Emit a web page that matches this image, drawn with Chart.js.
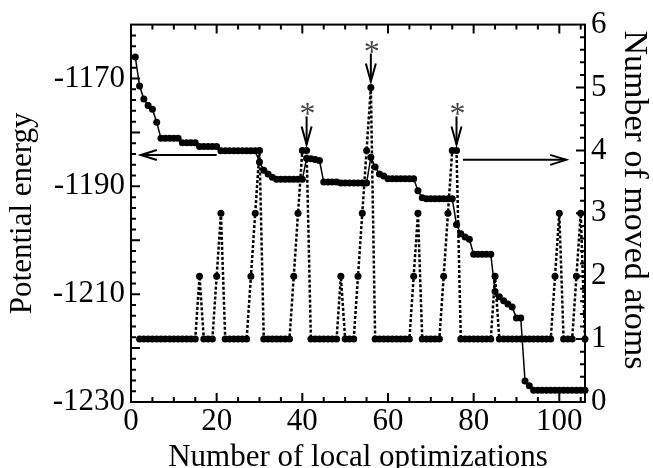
<!DOCTYPE html>
<html>
<head>
<meta charset="utf-8">
<script src="https://cdn.jsdelivr.net/npm/chart.js@4.4.1/dist/chart.umd.min.js"></script>
<style>
  html, body { margin: 0; padding: 0; background: #fff; }
  #wrap { width: 653px; height: 468px; position: relative; }
</style>
</head>
<body>
<div id="wrap"><canvas id="chart"></canvas></div>
<script>
// potential energy after each local optimization, steps 1..106
const energy = [
  -1166, -1171.4, -1173.8, -1175, -1175.7, -1178.1, -1181.1, -1181.1, -1181.1, -1181.1,
  -1181.1, -1181.9, -1181.9, -1181.9, -1181.9, -1182.6, -1182.6, -1182.6, -1182.6, -1182.6,
  -1183.4, -1183.4, -1183.4, -1183.4, -1183.4, -1183.4, -1183.4, -1183.4, -1183.4, -1185.5,
  -1187, -1187.7, -1188.3, -1188.7, -1188.7, -1188.7, -1188.7, -1188.7, -1188.7, -1188.7,
  -1184.8, -1184.9, -1185, -1185.2, -1189.2, -1189.2, -1189.2, -1189.2, -1189.4, -1189.4,
  -1189.4, -1189.4, -1189.4, -1189.4, -1189.4, -1184.6, -1186.4, -1187.7, -1188.1, -1188.6,
  -1188.6, -1188.6, -1188.6, -1188.6, -1188.6, -1188.6, -1190.8, -1192.1, -1192.3, -1192.3,
  -1192.3, -1192.3, -1192.3, -1192.3, -1192.3, -1197.1, -1198.8, -1199.4, -1199.8, -1202.6,
  -1202.6, -1202.6, -1202.6, -1202.6, -1209.5, -1210.5, -1211.2, -1211.8, -1212.4, -1214.4,
  -1214.4, -1226.1, -1227, -1227.8, -1227.8, -1227.8, -1227.8, -1227.8, -1227.8, -1227.8,
  -1227.8, -1227.8, -1227.8, -1227.8, -1227.8, -1227.8
];

// number of moved atoms, same steps (nothing at step 1)
const moved = [
  null, 1, 1, 1, 1, 1, 1, 1, 1, 1,
  1, 1, 1, 1, 1, 2, 1, 1, 1, 2,
  3, 1, 1, 1, 1, 1, 1, 2, 3, 4,
  1, 1, 1, 1, 1, 1, 1, 2, 3, 4,
  4, 1, 1, 1, 1, 1, 1, 1, 2, 1,
  1, 1, 2, 3, 4, 5, 1, 1, 1, 1,
  1, 1, 1, 1, 1, 2, 3, 1, 1, 1,
  1, 1, 2, 3, 4, 4, 1, 1, 1, 1,
  1, 1, 1, 1, 2, 1, 1, 1, 1, 1,
  1, 1, 1, 1, 1, 1, 1, 1, 2, 3,
  1, 1, 1, 2, 3, 1
];

const xTicks = [0, 20, 40, 60, 80, 100];
const energyTicks = [-1230, -1210, -1190, -1170];
const movedTicks = [0, 1, 2, 3, 4, 5, 6];
const markedSteps = [41, 56, 76];

const steps = energy.map((_, i) => i + 1);
const FONT = 'Liberation Serif';

const energyPoints = steps.map((s, i) => ({ x: s, y: energy[i] }));
const movedPoints = steps.map((s, i) => ({ x: s, y: moved[i] })).filter(p => p.y !== null);

function arrow(ctx, x1, y1, x2, y2, len, half) {
  ctx.beginPath();
  ctx.moveTo(x1, y1);
  ctx.lineTo(x2, y2);
  ctx.stroke();
  const a = Math.atan2(y2 - y1, x2 - x1);
  const ux = Math.cos(a), uy = Math.sin(a);
  ctx.beginPath();
  ctx.moveTo(x2 - ux * len - uy * half, y2 - uy * len + ux * half);
  ctx.lineTo(x2, y2);
  ctx.lineTo(x2 - ux * len + uy * half, y2 - uy * len - ux * half);
  ctx.stroke();
}

// inward tick marks, frame, axis titles and the arrows
const decorations = {
  id: 'decorations',
  afterDraw(chart) {
    const ctx = chart.ctx;
    const { left, right, top, bottom } = chart.chartArea;
    const sx = chart.scales.x, sy = chart.scales.y, sy1 = chart.scales.y1;
    ctx.save();
    ctx.strokeStyle = '#000';
    ctx.lineWidth = 2;
    ctx.lineCap = 'butt';

    ctx.beginPath();
    for (let k = 1; k * 5 < 106; k++) {
      const v = k * 5;
      const len = v % 20 === 0 ? 9 : 5;
      const p = sx.getPixelForValue(v);
      ctx.moveTo(p, bottom); ctx.lineTo(p, bottom - len);
      ctx.moveTo(p, top); ctx.lineTo(p, top + len);
    }
    for (let k = 1; k < 35; k++) {
      const v = -1230 + k * 2;
      const len = (k * 2) % 10 === 0 ? 9 : 5;
      const p = sy.getPixelForValue(v);
      ctx.moveTo(left, p); ctx.lineTo(left + len, p);
    }
    for (let k = 1; k < 30; k++) {
      const v = k * 0.2;
      const len = k % 5 === 0 ? 9 : 5;
      const p = sy1.getPixelForValue(v);
      ctx.moveTo(right, p); ctx.lineTo(right - len, p);
    }
    ctx.stroke();
    ctx.strokeRect(left, top, right - left, bottom - top);

    // titles
    ctx.fillStyle = '#000';
    ctx.textAlign = 'center';
    ctx.textBaseline = 'alphabetic';
    ctx.font = '31px "' + FONT + '"';
    ctx.fillText('Number of local optimizations', (left + right) / 2, 466);
    ctx.save();
    ctx.translate(31, (top + bottom) / 2);
    ctx.rotate(-Math.PI / 2);
    ctx.fillText('Potential energy', 0, 0);
    ctx.restore();
    ctx.font = '34px "' + FONT + '"';
    ctx.save();
    ctx.translate(625, 200);
    ctx.rotate(Math.PI / 2);
    ctx.fillText('Number of moved atoms', 0, 0);
    ctx.restore();

    // axis arrows
    const ly = sy.getPixelForValue(-1184.2);
    arrow(ctx, sx.getPixelForValue(20), ly, sx.getPixelForValue(2.3), ly, 16, 5);
    const ry = sy1.getPixelForValue(3.85);
    arrow(ctx, sx.getPixelForValue(77.5), ry, sx.getPixelForValue(101.6), ry, 16, 5);

    // asterisk markers
    ctx.font = '32px "' + FONT + '"';
    ctx.fillStyle = '#444';
    markedSteps.forEach(s => {
      const px = sx.getPixelForValue(s);
      const tip = sy1.getPixelForValue(moved[s - 1]) - 6;
      arrow(ctx, px, tip - 28, px, tip, 18, 5);
      ctx.fillText('*', px + 1, tip - 20);
    });
    ctx.restore();
  }
};

const tickFont = { family: FONT, size: 31 };
const plain = v => String(v);

new Chart(document.getElementById('chart'), {
  type: 'line',
  data: {
    datasets: [
      {
        label: 'Potential energy',
        data: energyPoints,
        yAxisID: 'y',
        borderColor: '#000',
        borderWidth: 1.5,
        pointRadius: 3.5,
        pointBackgroundColor: '#000',
        pointBorderWidth: 0,
        tension: 0,
        clip: false
      },
      {
        label: 'Number of moved atoms',
        data: movedPoints,
        yAxisID: 'y1',
        borderColor: '#000',
        borderWidth: 2.5,
        borderDash: [3, 2],
        pointRadius: 3.5,
        pointBackgroundColor: '#000',
        pointBorderWidth: 0,
        tension: 0,
        clip: false
      }
    ]
  },
  options: {
    responsive: true,
    maintainAspectRatio: false,
    animation: false,
    layout: { padding: { top: 22, left: 0, right: 0, bottom: 0 } },
    plugins: {
      legend: { display: false },
      tooltip: { enabled: false }
    },
    scales: {
      x: {
        type: 'linear',
        min: 0,
        max: 106,
        grid: { display: false, drawTicks: false },
        border: { display: false },
        ticks: { font: tickFont, color: '#000', padding: 1, maxRotation: 0, autoSkip: false, callback: plain },
        afterBuildTicks: s => { s.ticks = xTicks.map(v => ({ value: v })); },
        afterFit: s => { s.height = 66; }
      },
      y: {
        position: 'left',
        min: -1230,
        max: -1160,
        grid: { display: false, drawTicks: false },
        border: { display: false },
        ticks: { font: tickFont, color: '#000', padding: 6, autoSkip: false, callback: plain },
        afterBuildTicks: s => { s.ticks = energyTicks.map(v => ({ value: v })); },
        afterFit: s => { s.width = 131; }
      },
      y1: {
        position: 'right',
        min: 0,
        max: 6,
        grid: { display: false, drawTicks: false },
        border: { display: false },
        ticks: { font: tickFont, color: '#000', padding: 6, autoSkip: false, callback: plain },
        afterBuildTicks: s => { s.ticks = movedTicks.map(v => ({ value: v })); },
        afterFit: s => { s.width = 68; }
      }
    }
  },
  plugins: [decorations]
});
</script>
</body>
</html>
